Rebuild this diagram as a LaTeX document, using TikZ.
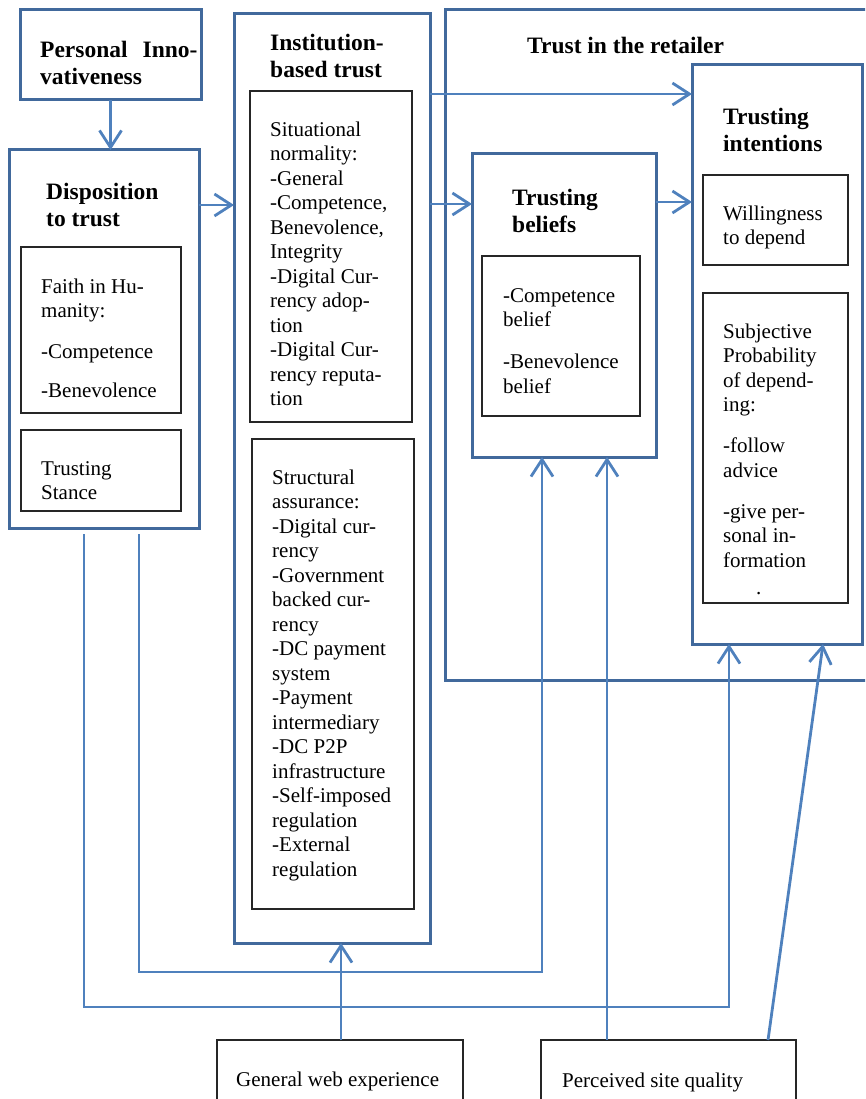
\documentclass[tikz,border=0pt]{standalone}
\usepackage{fontspec}
\setmainfont{Liberation Serif}
\usetikzlibrary{arrows.meta}
\definecolor{boxblue}{HTML}{41699C}
\definecolor{arrowblue}{HTML}{4F81BD}

\begin{document}
\begin{tikzpicture}[x=1pt,y=-1pt,
  obox/.style={draw=boxblue, line width=3pt, rectangle, inner sep=0pt, outer sep=0pt, anchor=north west},
  ibox/.style={draw=black!85, line width=1.3pt, rectangle, inner sep=0pt, outer sep=0pt, anchor=north west},
  head/.style={font=\fontsize{23.5}{27.5}\selectfont\bfseries, anchor=north west, inner sep=0pt, align=left},
  body/.style={font=\fontsize{21}{24.5}\selectfont, anchor=north west, inner sep=0pt, align=left},
  link/.style={draw=arrowblue, line width=2.8pt, line join=miter,
    -{Straight Barb[length=17pt,width=22pt,line width=2.8pt]}}
]
\useasboundingbox (0,0) rectangle (865,1099);
\clip (0,0) rectangle (865,1099);

% ---- outer construct boxes ----
\node[obox, minimum width=181pt, minimum height=90pt]  (pi)      at (20,10)  {};
\node[obox, minimum width=190pt, minimum height=378pt] (disp)    at (9,150)  {};
\node[obox, minimum width=196pt, minimum height=929pt] (inst)    at (234,14) {};
\node[obox, minimum width=435pt, minimum height=670pt] (retail)  at (445,10) {};
\node[obox, minimum width=184pt, minimum height=303pt] (beliefs) at (472,154) {};
\node[obox, minimum width=170pt, minimum height=579pt] (intent)  at (692,65) {};

% ---- inner boxes ----
\node[ibox, minimum width=160pt, minimum height=166pt] (faith)  at (21,247)  {};
\node[ibox, minimum width=160pt, minimum height=81pt]  (stance) at (21,430)  {};
\node[ibox, minimum width=162pt, minimum height=331pt] (sit)    at (250,91)  {};
\node[ibox, minimum width=162pt, minimum height=470pt] (struct) at (252,439) {};
\node[ibox, minimum width=158pt, minimum height=160pt] (blist)  at (482,256) {};
\node[ibox, minimum width=145pt, minimum height=90pt]  (will)   at (703,175) {};
\node[ibox, minimum width=145pt, minimum height=310pt] (subj)   at (703,293) {};

% ---- antecedent boxes at the bottom ----
\node[ibox, minimum width=246pt, minimum height=80pt] (gwe) at (217,1040) {};
\node[ibox, minimum width=255pt, minimum height=80pt] (psq) at (541,1040) {};

% ---- headings ----
\node[head] (piT)      at (40,37.75)   {\strut Personal\hspace{15pt}Inno-\\vativeness};
\node[head] (dispT)    at (46,179.75)  {\strut Disposition\\to trust};
\node[head] (instT)    at (270,30.75)  {\strut Institution-\\based trust};
\node[head] (retailT)  at (527,33.75)  {\strut Trust in the retailer};
\node[head] (intentT)  at (723,104.75) {\strut Trusting\\intentions};
\node[head] (beliefsT) at (512,185.75) {\strut Trusting\\beliefs};

% ---- body texts ----
\node[body] (faithT) at (41,275.85)
  {\strut Faith in Hu-\\manity:\\[16.5pt]-Competence\\[14.5pt]-Benevolence};
\node[body] (stanceT) at (41,457.85) {\strut Trusting\\Stance};
\node[body] (sitT) at (270,118.85)
  {\strut Situational\\normality:\\-General\\-Competence,\\Benevolence,\\Integrity\\-Digital Cur-\\rency adop-\\tion\\-Digital Cur-\\rency reputa-\\tion};
\node[body] (structT) at (272,466.85)
  {\strut Structural\\assurance:\\-Digital cur-\\rency\\-Government\\backed cur-\\rency\\-DC payment\\system\\-Payment\\intermediary\\-DC P2P\\infrastructure\\-Self-imposed\\regulation\\-External\\regulation};
\node[body] (blistT) at (503,284.85)
  {\strut -Competence\\belief\\[17.5pt]-Benevolence\\belief};
\node[body] (willT) at (723,202.85) {\strut Willingness\\to depend};
\node[body] (subjT) at (723,320.85)
  {\strut Subjective\\Probability\\of depend-\\ing:\\[16.5pt]-follow\\advice\\[16.5pt]-give per-\\sonal in-\\formation\\[2.5pt]\hspace*{33pt}.};
\node[body] (gweT) at (236,1068.85) {\strut General web experience};
\node[body] (psqT) at (562,1069.85) {\strut Perceived site quality};

% ---- free starting points below the disposition box ----
\coordinate (d1) at (139,534);
\coordinate (d2) at (84,534);

% ---- connectors ----
\draw[link] (pi.south) -- (disp.north -| pi.south);
\draw[link] (disp.east |- 0,205) -- (inst.west |- 0,205);
\draw[link] (inst.east |- 0,94) -- (intent.west |- 0,94);
\draw[link] (inst.east |- 0,204) -- (beliefs.west |- 0,204);
\draw[link] (beliefs.east |- 0,202) -- (intent.west |- 0,202);
\draw[link] (d1) -- (d1 |- 0,972) -| (beliefs.south -| 542,0);
\draw[link] (d2) -- (d2 |- 0,1007) -| (intent.south -| 729,0);
\draw[link] (gwe.north -| 341,0) -- (inst.south -| 341,0);
\draw[link] (psq.north -| 607,0) -- (beliefs.south -| 607,0);
\draw[link] (psq.north -| 768,0) -- (intent.south -| 823,0);
\end{tikzpicture}
\end{document}
